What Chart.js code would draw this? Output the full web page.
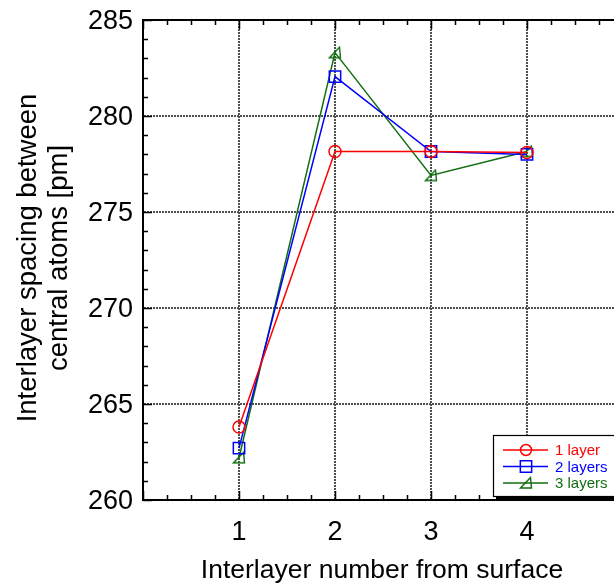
<!DOCTYPE html>
<html>
<head>
<meta charset="utf-8">
<script src="https://cdn.jsdelivr.net/npm/chart.js@4/dist/chart.umd.min.js"></script>
<style>
  html, body { margin: 0; padding: 0; background: #fff; overflow: hidden; }
  #wrap { width: 640px; height: 588px; }
</style>
</head>
<body>
<div id="wrap"><canvas id="c" width="640" height="588"></canvas></div>
<script>
// Interlayer number (position below the surface)
const layerNumbers = [1, 2, 3, 4];

// Interlayer spacing between central atoms [pm]
const oneLayer    = [263.8, 278.15, 278.15, 278.1];
const twoLayers   = [262.7, 282.05, 278.15, 278.0];
const threeLayers = [262.2, 283.3, 276.9, 278.15];

const seriesNames = ['1 layer', '2 layers', '3 layers'];

// Axis ticks
const xTickLabels = [1, 2, 3, 4];
const yTickLabels = [260, 265, 270, 275, 280, 285];

const xTitle = 'Interlayer number from surface';
const yTitle = ['Interlayer spacing between', 'central atoms [pm]'];

const RED = '#ff0000', BLUE = '#0000ff', GREEN = '#116e11';
const FONT = '"Liberation Sans", Arial, sans-serif';
const GRID = '#505050';

// Right-angled triangle marker (◢), open
function triangleMarker(color) {
  const cv = document.createElement('canvas');
  cv.width = 14; cv.height = 14;
  const g = cv.getContext('2d');
  g.strokeStyle = color;
  g.lineWidth = 1.4;
  g.beginPath();
  g.moveTo(1.5, 12);
  g.lineTo(12.5, 12);
  g.lineTo(11.5, 1.5);
  g.closePath();
  g.stroke();
  return cv;
}
const triImg = triangleMarker(GREEN);

const toPoints = arr => layerNumbers.map((x, i) => ({ x, y: arr[i] }));

const datasets = [
  { label: seriesNames[0], data: toPoints(oneLayer), borderColor: RED,
    pointStyle: 'circle', pointRadius: 6 },
  { label: seriesNames[1], data: toPoints(twoLayers), borderColor: BLUE,
    pointStyle: 'rect', pointRadius: 8 },
  { label: seriesNames[2], data: toPoints(threeLayers), borderColor: GREEN,
    pointStyle: triImg, pointRadius: 7 }
].map(d => Object.assign({
  borderWidth: 1.5,
  pointBorderWidth: 1.5,
  pointBorderColor: d.borderColor,
  pointBackgroundColor: 'rgba(0,0,0,0)',
  pointHoverRadius: d.pointRadius,
  showLine: true,
  tension: 0,
  fill: false
}, d));

// Frame, inward ticks, axis titles and the boxed legend
const decorations = {
  id: 'decorations',
  afterDraw(chart) {
    const ctx = chart.ctx;
    const a = chart.chartArea;
    const xs = chart.scales.x, ys = chart.scales.y;
    ctx.save();

    // top frame line
    ctx.strokeStyle = '#000';
    ctx.lineWidth = 2;
    ctx.beginPath();
    ctx.moveTo(a.left, a.top);
    ctx.lineTo(a.right, a.top);
    ctx.stroke();

    // inward ticks on left edge (minor every 1, major every 5)
    ctx.lineWidth = 1.5;
    ctx.beginPath();
    for (let v = ys.min; v <= ys.max; v += 1) {
      const py = Math.round(ys.getPixelForValue(v)) + 0.5;
      const len = (v % 5 === 0) ? 9 : 5;
      ctx.moveTo(a.left, py);
      ctx.lineTo(a.left + len, py);
    }
    // inward ticks on bottom and top edges (every 0.25)
    for (let v = xs.min; v <= xs.max + 1e-9; v += 0.25) {
      const px = Math.round(xs.getPixelForValue(v)) + 0.5;
      const len = (Math.abs(v - Math.round(v)) < 1e-9) ? 9 : 5;
      ctx.moveTo(px, a.bottom);
      ctx.lineTo(px, a.bottom - len);
      ctx.moveTo(px, a.top);
      ctx.lineTo(px, a.top + len);
    }
    ctx.stroke();

    // axis titles
    ctx.fillStyle = '#000';
    ctx.textAlign = 'center';
    ctx.textBaseline = 'middle';
    ctx.font = '26.5px ' + FONT;
    ctx.fillText(xTitle, (a.left + a.right) / 2 - 1, 571);
    ctx.save();
    ctx.font = '27.5px ' + FONT;
    ctx.translate(0, 258);
    ctx.rotate(-Math.PI / 2);
    ctx.fillText(yTitle[0], 0, 28);
    ctx.fillText(yTitle[1], 0, 59);
    ctx.restore();

    // legend box with drop shadow
    const bx = 493, by = 435, bw = 160, bh = 61;
    ctx.fillStyle = '#000';
    ctx.fillRect(bx + 3, by + 3, bw, bh);
    ctx.fillStyle = '#fff';
    ctx.fillRect(bx, by, bw, bh);
    ctx.strokeStyle = '#000';
    ctx.lineWidth = 1.2;
    ctx.strokeRect(bx + 0.5, by + 0.5, bw, bh);

    ctx.font = '15px ' + FONT;
    ctx.textAlign = 'left';
    chart.data.datasets.forEach((ds, i) => {
      const ly = 450 + i * 16.5;
      ctx.strokeStyle = ds.borderColor;
      ctx.lineWidth = 1.5;
      ctx.beginPath();
      ctx.moveTo(503, ly);
      ctx.lineTo(548, ly);
      ctx.stroke();
      ctx.fillStyle = 'rgba(0,0,0,0)';
      Chart.helpers.drawPoint(ctx, {
        pointStyle: ds.pointStyle,
        radius: ds.pointStyle === 'circle' ? 5.5 : ds.pointRadius,
        rotation: 0,
        borderWidth: 1.5
      }, 526, ly);
      ctx.fillStyle = ds.borderColor;
      ctx.fillText(ds.label, 555, ly + 1);
    });
    ctx.restore();
  }
};

new Chart(document.getElementById('c'), {
  type: 'scatter',
  data: { datasets },
  plugins: [decorations],
  options: {
    responsive: false,
    animation: false,
    events: [],
    layout: { padding: { top: 20, right: 17, left: 0, bottom: 0 } },
    plugins: { legend: { display: false }, tooltip: { enabled: false } },
    scales: {
      x: {
        type: 'linear',
        min: 0, max: 5,
        afterBuildTicks: s => { s.ticks = [0, ...xTickLabels, 5].map(v => ({ value: v })); },
        afterFit: s => { s.height = 88; s.paddingLeft = 0; s.paddingRight = 0; },
        ticks: {
          padding: 16,
          color: '#000',
          font: { family: FONT, size: 27 },
          callback: v => xTickLabels.includes(v) ? String(v) : ''
        },
        grid: { color: GRID, lineWidth: 2, drawTicks: false },
        border: { color: '#000', width: 2, dash: [2, 1] }
      },
      y: {
        min: 260, max: 285,
        afterBuildTicks: s => { s.ticks = yTickLabels.map(v => ({ value: v })); },
        afterFit: s => { s.width = 143; s.paddingTop = 0; s.paddingBottom = 0; },
        ticks: {
          padding: 10,
          labelOffset: 2,
          color: '#000',
          font: { family: FONT, size: 27 },
          callback: v => String(v)
        },
        grid: { color: GRID, lineWidth: 2, drawTicks: false },
        border: { color: '#000', width: 2, dash: [2, 1] }
      }
    }
  }
});
</script>
</body>
</html>
